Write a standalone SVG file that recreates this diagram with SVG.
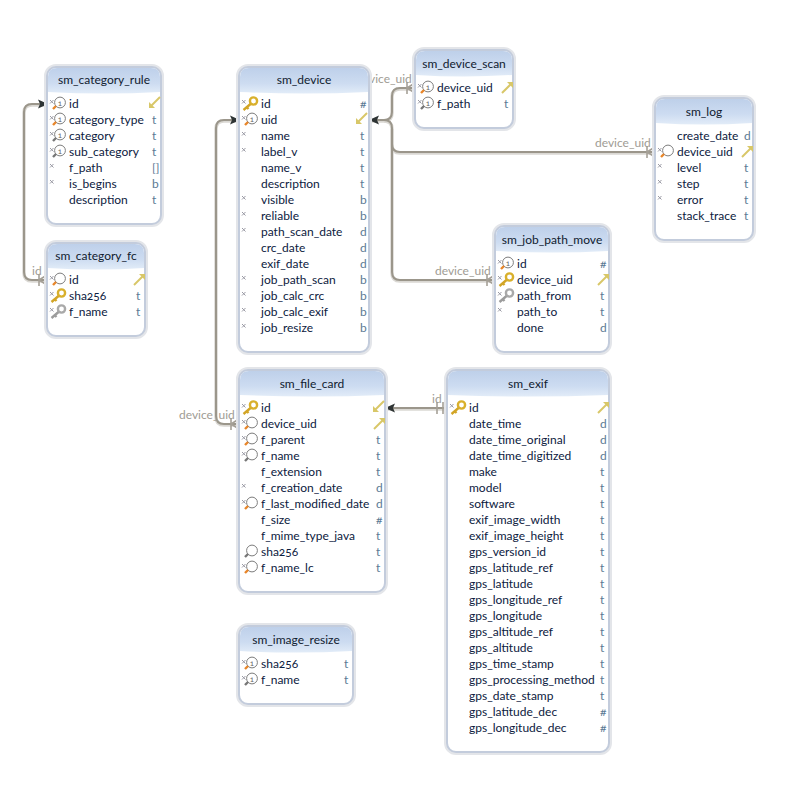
<svg xmlns="http://www.w3.org/2000/svg" width="800" height="800" viewBox="0 0 800 800">
<style>
text{font-family:Lato,"Noto Sans","Liberation Sans",sans-serif;font-size:12px;font-variant-numeric:oldstyle-nums}
.box{fill:#fff;stroke:#c3ccdc;stroke-width:2}
.glow{fill:none;stroke:#e3e5e9;stroke-width:6}
.head{fill:url(#hd)}
.title{fill:#10202f;text-anchor:middle}
.row{fill:#0c2040}
.type{fill:#5b7a94}
.lbl{fill:#a09c94}
#wires path{fill:none}
.wire{stroke:#9b968b;stroke-width:2}
.under{stroke:#dad8d3;stroke-width:3.5}
.foot{fill:none;stroke:#a5a097;stroke-width:1.6}
.one{font-size:8px;fill:#666;text-anchor:middle}
</style>
<defs>
<linearGradient id="hd" x1="0" y1="0" x2="0" y2="1"><stop offset="0" stop-color="#bed0ea"/><stop offset=".6" stop-color="#cddcf1"/><stop offset="1" stop-color="#e2ecf8"/></linearGradient>
<!-- column icons, drawn relative to the start of the column name -->
<g id="m"><path d="M-19-4l3.5 3.5m0-3.5l-3.5 3.5" stroke="#9a9aa4" stroke-width="1" fill="none"/></g>
<g id="c"><circle cx="-9" cy="-1.500" r="5.400" fill="#fff" stroke="#7d7d7d"/></g>
<g id="c1"><use href="#c"/><text class="one" x="-9" y="1.500">1</text></g>
<g id="ho"><path d="M-13 2l-3 3" stroke="#e8862a" stroke-width="2.400"/></g>
<g id="hg"><path d="M-13 2l-3 3" stroke="#777" stroke-width="2.400"/></g>
<g id="kg"><circle cx="-7.500" cy="-3" r="3.600" fill="none" stroke="#d9b02c" stroke-width="2.400"/><path d="M-10.500 0l-7 6m3-3l2 2" stroke="#d2a526" stroke-width="2.400" fill="none"/></g>
<g id="ks"><circle cx="-7.500" cy="-3" r="3.600" fill="none" stroke="#a9a9a9" stroke-width="2.400"/><path d="M-10.500 0l-7 6m3-3l2 2" stroke="#9c9c9c" stroke-width="2.400" fill="none"/></g>
<!-- foreign key direction arrows, placed at the right edge of the row -->
<g id="ain"><path d="M-1-6L-11 4" stroke="#d8c768" stroke-width="2"/><path d="M-12 5V-1L-6 5Z" fill="#d8c768"/></g>
<g id="aout"><path d="M-11 5L-1-5" stroke="#d8c768" stroke-width="2"/><path d="M0-6V0L-6-6Z" fill="#d8c768"/></g>
<path id="tip" d="M0 0L10-4.500L8 0L10 4.500Z" fill="#2e3434"/>
<g id="wires">
<path d="M47 280H32Q24 280 24 272V112Q24 104 32 104H47"/>
<path d="M415 88H400Q392 88 392 96V112Q392 120 384 120H369"/>
<path d="M655 152H400Q392 152 392 144V128Q392 120 384 120"/>
<path d="M495 280H400Q392 280 392 272V128"/>
<path d="M239 424H224Q216 424 216 416V128Q216 120 224 120H239"/>
<path d="M447 408H385"/>
</g>
</defs>

<g id="connectors">
<use href="#wires" class="under" y="1"/>
<use href="#wires" class="wire"/>
<use href="#tip" transform="translate(369 120)"/>
<use href="#tip" transform="translate(385 408)"/>
<use href="#tip" transform="translate(240 120) rotate(180)"/>
<use href="#tip" transform="translate(48 104) rotate(180)"/>
<path class="foot" d="M39 274V286M39 280L47 275M39 280L47 285"/>
<path class="foot" d="M407 82V94M407 88L415 83M407 88L415 93"/>
<path class="foot" d="M647 146V158M647 152L655 147M647 152L655 157"/>
<path class="foot" d="M487 274V286M487 280L495 275M487 280L495 285"/>
<path class="foot" d="M231 418V430M231 424L239 419M231 424L239 429"/>
<path class="foot" d="M437 402V414M443 402V414"/>
<text class="lbl" x="32" y="275">id</text>
<text class="lbl" x="369" y="83">vice_uid</text>
<text class="lbl" x="595" y="147">device_uid</text>
<text class="lbl" x="435" y="275">device_uid</text>
<text class="lbl" x="179" y="419">device_uid</text>
<text class="lbl" x="432" y="403">id</text>
</g>

<g id="sm_category_rule">
<rect class="glow" x="47" y="67" width="114" height="157" rx="9"/><rect class="box" x="47" y="67" width="114" height="157" rx="9"/>
<path class="head" d="M48 92V77Q48 68 57 68H151Q160 68 160 77V92Q104 95 48 92Z"/>
<text class="title" x="104" y="84">sm_category_rule</text>
<use href="#m" x="69" y="104"/><use href="#c1" x="69" y="104"/><use href="#ho" x="69" y="104"/><text class="row" x="69" y="108">id</text><use href="#ain" x="161" y="103"/>
<use href="#m" x="69" y="120"/><use href="#c1" x="69" y="120"/><use href="#ho" x="69" y="120"/><text class="row" x="69" y="124">category_type</text><text class="type" x="152" y="124">t</text>
<use href="#m" x="69" y="136"/><use href="#c1" x="69" y="136"/><use href="#hg" x="69" y="136"/><text class="row" x="69" y="140">category</text><text class="type" x="152" y="140">t</text>
<use href="#m" x="69" y="152"/><use href="#c1" x="69" y="152"/><use href="#hg" x="69" y="152"/><text class="row" x="69" y="156">sub_category</text><text class="type" x="152" y="156">t</text>
<use href="#m" x="69" y="168"/><text class="row" x="69" y="172">f_path</text><text class="type" x="152" y="172">[]</text>
<use href="#m" x="69" y="184"/><text class="row" x="69" y="188">is_begins</text><text class="type" x="152" y="188">b</text>
<text class="row" x="69" y="204">description</text><text class="type" x="152" y="204">t</text>
</g>

<g id="sm_category_fc">
<rect class="glow" x="47" y="243" width="98" height="93" rx="9"/><rect class="box" x="47" y="243" width="98" height="93" rx="9"/>
<path class="head" d="M48 268V253Q48 244 57 244H135Q144 244 144 253V268Q96 271 48 268Z"/>
<text class="title" x="96" y="260">sm_category_fc</text>
<use href="#m" x="69" y="280"/><use href="#c" x="69" y="280"/><use href="#ho" x="69" y="280"/><text class="row" x="69" y="284">id</text><use href="#aout" x="145" y="280"/>
<use href="#m" x="69" y="296"/><use href="#kg" x="69" y="296"/><text class="row" x="69" y="300">sha256</text><text class="type" x="136" y="300">t</text>
<use href="#m" x="69" y="312"/><use href="#ks" x="69" y="312"/><text class="row" x="69" y="316">f_name</text><text class="type" x="136" y="316">t</text>
</g>

<g id="sm_device">
<rect class="glow" x="239" y="67" width="130" height="285" rx="9"/><rect class="box" x="239" y="67" width="130" height="285" rx="9"/>
<path class="head" d="M240 92V77Q240 68 249 68H359Q368 68 368 77V92Q304 95 240 92Z"/>
<text class="title" x="304" y="84">sm_device</text>
<use href="#m" x="261" y="104"/><use href="#kg" x="261" y="104"/><text class="row" x="261" y="108">id</text><text class="type" x="360" y="108">#</text>
<use href="#m" x="261" y="120"/><use href="#c1" x="261" y="120"/><use href="#ho" x="261" y="120"/><text class="row" x="261" y="124">uid</text><use href="#ain" x="368" y="119"/>
<use href="#m" x="261" y="136"/><text class="row" x="261" y="140">name</text><text class="type" x="360" y="140">t</text>
<use href="#m" x="261" y="152"/><text class="row" x="261" y="156">label_v</text><text class="type" x="360" y="156">t</text>
<text class="row" x="261" y="172">name_v</text><text class="type" x="360" y="172">t</text>
<text class="row" x="261" y="188">description</text><text class="type" x="360" y="188">t</text>
<use href="#m" x="261" y="200"/><text class="row" x="261" y="204">visible</text><text class="type" x="360" y="204">b</text>
<use href="#m" x="261" y="216"/><text class="row" x="261" y="220">reliable</text><text class="type" x="360" y="220">b</text>
<use href="#m" x="261" y="232"/><text class="row" x="261" y="236">path_scan_date</text><text class="type" x="360" y="236">d</text>
<text class="row" x="261" y="252">crc_date</text><text class="type" x="360" y="252">d</text>
<text class="row" x="261" y="268">exif_date</text><text class="type" x="360" y="268">d</text>
<use href="#m" x="261" y="280"/><text class="row" x="261" y="284">job_path_scan</text><text class="type" x="360" y="284">b</text>
<use href="#m" x="261" y="296"/><text class="row" x="261" y="300">job_calc_crc</text><text class="type" x="360" y="300">b</text>
<use href="#m" x="261" y="312"/><text class="row" x="261" y="316">job_calc_exif</text><text class="type" x="360" y="316">b</text>
<use href="#m" x="261" y="328"/><text class="row" x="261" y="332">job_resize</text><text class="type" x="360" y="332">b</text>
</g>

<g id="sm_device_scan">
<rect class="glow" x="415" y="50" width="98" height="78" rx="9"/><rect class="box" x="415" y="50" width="98" height="78" rx="9"/>
<path class="head" d="M416 75V60Q416 51 425 51H503Q512 51 512 60V75Q464 78 416 75Z"/>
<text class="title" x="464" y="68">sm_device_scan</text>
<use href="#m" x="437" y="88"/><use href="#c1" x="437" y="88"/><use href="#ho" x="437" y="88"/><text class="row" x="437" y="92">device_uid</text><use href="#aout" x="513" y="88"/>
<use href="#m" x="437" y="104"/><use href="#c1" x="437" y="104"/><use href="#hg" x="437" y="104"/><text class="row" x="437" y="108">f_path</text><text class="type" x="504" y="108">t</text>
</g>

<g id="sm_log">
<rect class="glow" x="655" y="98" width="98" height="142" rx="9"/><rect class="box" x="655" y="98" width="98" height="142" rx="9"/>
<path class="head" d="M656 123V108Q656 99 665 99H743Q752 99 752 108V123Q704 126 656 123Z"/>
<text class="title" x="704" y="116">sm_log</text>
<text class="row" x="677" y="140">create_date</text><text class="type" x="744" y="140">d</text>
<use href="#m" x="677" y="152"/><use href="#c" x="677" y="152"/><use href="#ho" x="677" y="152"/><text class="row" x="677" y="156">device_uid</text><use href="#aout" x="753" y="152"/>
<use href="#m" x="677" y="168"/><text class="row" x="677" y="172">level</text><text class="type" x="744" y="172">t</text>
<use href="#m" x="677" y="184"/><text class="row" x="677" y="188">step</text><text class="type" x="744" y="188">t</text>
<use href="#m" x="677" y="200"/><text class="row" x="677" y="204">error</text><text class="type" x="744" y="204">t</text>
<text class="row" x="677" y="220">stack_trace</text><text class="type" x="744" y="220">t</text>
</g>

<g id="sm_job_path_move">
<rect class="glow" x="495" y="226" width="114" height="126" rx="9"/><rect class="box" x="495" y="226" width="114" height="126" rx="9"/>
<path class="head" d="M496 251V236Q496 227 505 227H599Q608 227 608 236V251Q552 254 496 251Z"/>
<text class="title" x="552" y="244">sm_job_path_move</text>
<use href="#m" x="517" y="264"/><use href="#c1" x="517" y="264"/><use href="#ho" x="517" y="264"/><text class="row" x="517" y="268">id</text><text class="type" x="600" y="268">#</text>
<use href="#m" x="517" y="280"/><use href="#kg" x="517" y="280"/><text class="row" x="517" y="284">device_uid</text><use href="#aout" x="609" y="280"/>
<use href="#m" x="517" y="296"/><use href="#ks" x="517" y="296"/><text class="row" x="517" y="300">path_from</text><text class="type" x="600" y="300">t</text>
<use href="#m" x="517" y="312"/><text class="row" x="517" y="316">path_to</text><text class="type" x="600" y="316">t</text>
<text class="row" x="517" y="332">done</text><text class="type" x="600" y="332">d</text>
</g>

<g id="sm_file_card">
<rect class="glow" x="239" y="370" width="146" height="222" rx="9"/><rect class="box" x="239" y="370" width="146" height="222" rx="9"/>
<path class="head" d="M240 395V380Q240 371 249 371H375Q384 371 384 380V395Q312 398 240 395Z"/>
<text class="title" x="312" y="388">sm_file_card</text>
<use href="#m" x="261" y="408"/><use href="#kg" x="261" y="408"/><text class="row" x="261" y="412">id</text><use href="#ain" x="385" y="407"/>
<use href="#m" x="261" y="424"/><use href="#c" x="261" y="424"/><use href="#ho" x="261" y="424"/><text class="row" x="261" y="428">device_uid</text><use href="#aout" x="385" y="424"/>
<use href="#m" x="261" y="440"/><use href="#c" x="261" y="440"/><use href="#ho" x="261" y="440"/><text class="row" x="261" y="444">f_parent</text><text class="type" x="376" y="444">t</text>
<use href="#m" x="261" y="456"/><use href="#c" x="261" y="456"/><use href="#hg" x="261" y="456"/><text class="row" x="261" y="460">f_name</text><text class="type" x="376" y="460">t</text>
<text class="row" x="261" y="476">f_extension</text><text class="type" x="376" y="476">t</text>
<use href="#m" x="261" y="488"/><text class="row" x="261" y="492">f_creation_date</text><text class="type" x="376" y="492">d</text>
<use href="#m" x="261" y="504"/><use href="#c" x="261" y="504"/><use href="#ho" x="261" y="504"/><text class="row" x="261" y="508">f_last_modified_date</text><text class="type" x="376" y="508">d</text>
<text class="row" x="261" y="524">f_size</text><text class="type" x="376" y="524">#</text>
<text class="row" x="261" y="540">f_mime_type_java</text><text class="type" x="376" y="540">t</text>
<use href="#c" x="261" y="552"/><use href="#hg" x="261" y="552"/><text class="row" x="261" y="556">sha256</text><text class="type" x="376" y="556">t</text>
<use href="#m" x="261" y="568"/><use href="#c" x="261" y="568"/><use href="#ho" x="261" y="568"/><text class="row" x="261" y="572">f_name_lc</text><text class="type" x="376" y="572">t</text>
</g>

<g id="sm_exif">
<rect class="glow" x="447" y="370" width="162" height="382" rx="9"/><rect class="box" x="447" y="370" width="162" height="382" rx="9"/>
<path class="head" d="M448 395V380Q448 371 457 371H599Q608 371 608 380V395Q528 398 448 395Z"/>
<text class="title" x="528" y="388">sm_exif</text>
<use href="#m" x="469" y="408"/><use href="#kg" x="469" y="408"/><text class="row" x="469" y="412">id</text><use href="#aout" x="609" y="408"/>
<text class="row" x="469" y="428">date_time</text><text class="type" x="600" y="428">d</text>
<text class="row" x="469" y="444">date_time_original</text><text class="type" x="600" y="444">d</text>
<text class="row" x="469" y="460">date_time_digitized</text><text class="type" x="600" y="460">d</text>
<text class="row" x="469" y="476">make</text><text class="type" x="600" y="476">t</text>
<text class="row" x="469" y="492">model</text><text class="type" x="600" y="492">t</text>
<text class="row" x="469" y="508">software</text><text class="type" x="600" y="508">t</text>
<text class="row" x="469" y="524">exif_image_width</text><text class="type" x="600" y="524">t</text>
<text class="row" x="469" y="540">exif_image_height</text><text class="type" x="600" y="540">t</text>
<text class="row" x="469" y="556">gps_version_id</text><text class="type" x="600" y="556">t</text>
<text class="row" x="469" y="572">gps_latitude_ref</text><text class="type" x="600" y="572">t</text>
<text class="row" x="469" y="588">gps_latitude</text><text class="type" x="600" y="588">t</text>
<text class="row" x="469" y="604">gps_longitude_ref</text><text class="type" x="600" y="604">t</text>
<text class="row" x="469" y="620">gps_longitude</text><text class="type" x="600" y="620">t</text>
<text class="row" x="469" y="636">gps_altitude_ref</text><text class="type" x="600" y="636">t</text>
<text class="row" x="469" y="652">gps_altitude</text><text class="type" x="600" y="652">t</text>
<text class="row" x="469" y="668">gps_time_stamp</text><text class="type" x="600" y="668">t</text>
<text class="row" x="469" y="684">gps_processing_method</text><text class="type" x="600" y="684">t</text>
<text class="row" x="469" y="700">gps_date_stamp</text><text class="type" x="600" y="700">t</text>
<text class="row" x="469" y="716">gps_latitude_dec</text><text class="type" x="600" y="716">#</text>
<text class="row" x="469" y="732">gps_longitude_dec</text><text class="type" x="600" y="732">#</text>
</g>

<g id="sm_image_resize">
<rect class="glow" x="239" y="626" width="114" height="78" rx="9"/><rect class="box" x="239" y="626" width="114" height="78" rx="9"/>
<path class="head" d="M240 651V636Q240 627 249 627H343Q352 627 352 636V651Q296 654 240 651Z"/>
<text class="title" x="296" y="644">sm_image_resize</text>
<use href="#m" x="261" y="664"/><use href="#c1" x="261" y="664"/><use href="#ho" x="261" y="664"/><text class="row" x="261" y="668">sha256</text><text class="type" x="344" y="668">t</text>
<use href="#m" x="261" y="680"/><use href="#c1" x="261" y="680"/><use href="#hg" x="261" y="680"/><text class="row" x="261" y="684">f_name</text><text class="type" x="344" y="684">t</text>
</g>
</svg>
